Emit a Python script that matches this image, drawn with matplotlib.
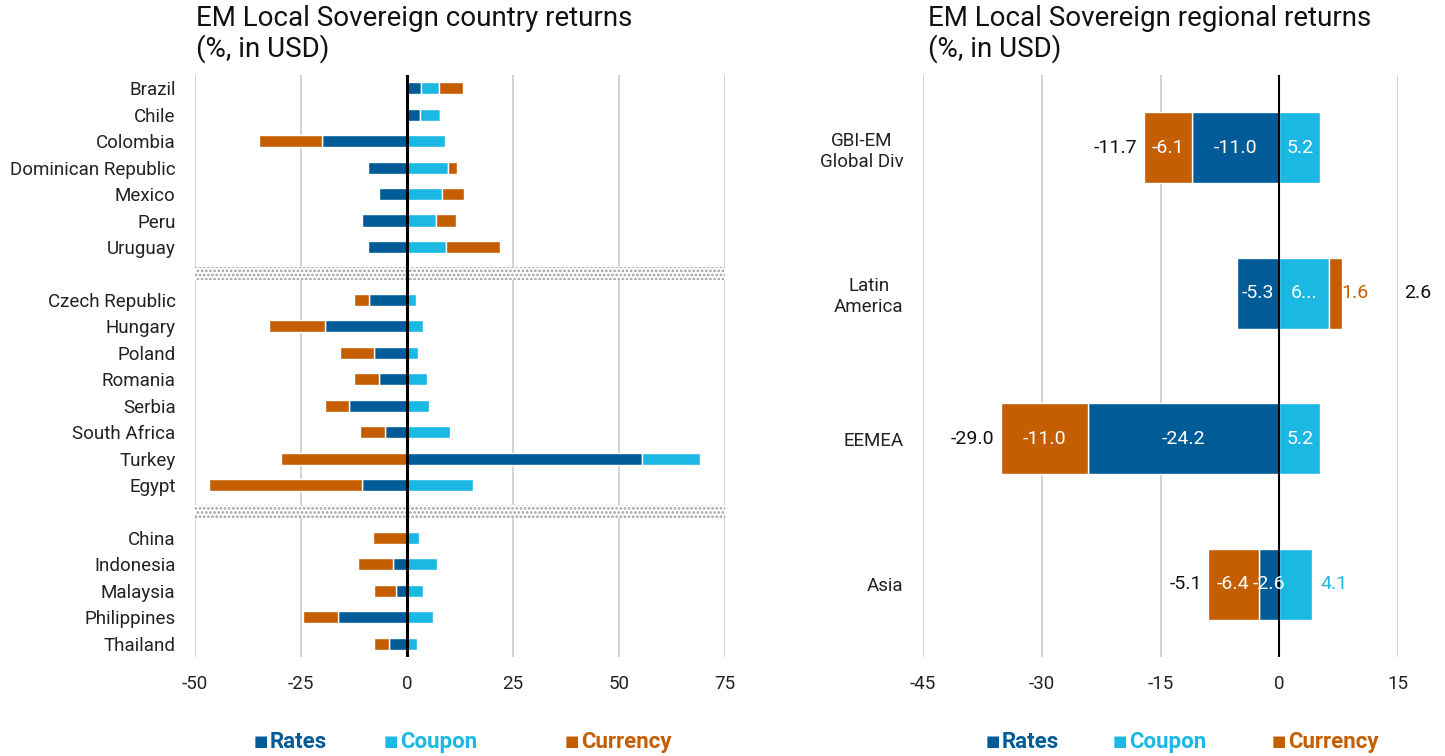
import matplotlib
matplotlib.use("Agg")
import matplotlib.pyplot as plt
import numpy as np

# colours
c_rates = '#005B96'
c_coupon = '#1BB8E4'
c_curr = '#C45E00'
c_grid = '#C8C8C8'

plt.rcParams['font.family'] = ['Roboto', 'DejaVu Sans']
plt.rcParams['hatch.linewidth'] = 1.3

# ---- left panel data (countries, top to bottom, None = separator) ----
countries = ['Brazil', 'Chile', 'Colombia', 'Dominican Republic', 'Mexico', 'Peru', 'Uruguay', None,
             'Czech Republic', 'Hungary', 'Poland', 'Romania', 'Serbia', 'South Africa', 'Turkey', 'Egypt', None,
             'China', 'Indonesia', 'Malaysia', 'Philippines', 'Thailand']
rates = [3.4, 3.1, -20.0, -9.3, -6.6, -10.6, -9.1, None,
         -9.0, -19.3, -7.9, -6.7, -13.6, -5.2, 55.4, -10.5, None,
         0.0, -3.2, -2.5, -16.2, -4.2]
coupon = [4.2, 4.7, 8.9, 9.7, 8.2, 6.9, 9.3, None,
          2.1, 3.8, 2.6, 4.6, 5.1, 10.1, 13.7, 15.5, None,
          2.8, 7.1, 3.8, 6.1, 2.3]
currency = [5.5, 0.0, -15.0, 2.2, 5.2, 4.7, 12.7, None,
            -3.4, -13.2, -7.8, -5.8, -5.8, -6.0, -29.7, -36.1, None,
            -8.1, -8.3, -5.4, -8.3, -3.7]
left_ticks = [-50, -25, 0, 25, 50, 75]

# ---- right panel data ----
regions = ['GBI-EM\nGlobal Div', 'Latin\nAmerica', 'EEMEA', 'Asia']
reg_rates = [-11.0, -5.3, -24.2, -2.6]
reg_coupon = [5.2, 6.3, 5.2, 4.1]
reg_curr = [-6.1, 1.6, -11.0, -6.4]
reg_total = [-11.7, 2.6, -29.0, -5.1]
right_ticks = [-45, -30, -15, 0, 15]

legend_labels = ['Rates', 'Coupon', 'Currency']
legend_colors = [c_rates, c_coupon, c_curr]

fig = plt.figure(figsize=(14.45, 7.56), dpi=100)
ax1 = fig.add_axes([195/1445, 1-657/756, 530/1445, 582/756])
ax2 = fig.add_axes([923/1445, 1-657/756, 475/1445, 582/756])


def stack(ax, y, series, colors, h):
    # stack positives to the right and negatives to the left, in series order
    pos = np.zeros(len(y))
    neg = np.zeros(len(y))
    segs = []
    for vals, col in zip(series, colors):
        vals = np.array(vals, dtype=float)
        left = np.where(vals >= 0, pos, neg)
        ax.barh(y, vals, left=left, height=h, color=col, edgecolor='white', linewidth=1.0, zorder=2)
        segs.append((left, vals))
        pos = pos + np.where(vals > 0, vals, 0)
        neg = neg + np.where(vals < 0, vals, 0)
    return segs, pos, neg


# left chart
ys = np.arange(len(countries))
idx = [i for i, c in enumerate(countries) if c is not None]
sep = [i for i, c in enumerate(countries) if c is None]
stack(ax1, ys[idx],
      [[rates[i] for i in idx], [coupon[i] for i in idx], [currency[i] for i in idx]],
      [c_rates, c_coupon, c_curr], 0.46)
for s in sep:
    ax1.barh(s, 125.5, left=-50, height=0.52, color='white', hatch='....',
             edgecolor='#A0A0A0', linewidth=0, zorder=1.5)
for t in left_ticks:
    if t != 0:
        ax1.axvline(t, color=c_grid, lw=1.1, zorder=1)
ax1.axvline(0, color='black', lw=2.2, zorder=3)
ax1.set_xlim(-50, 75)
ax1.set_ylim(len(countries) - 0.5, -0.5)
ax1.set_xticks(left_ticks)
ax1.set_xticklabels([str(t) for t in left_ticks])
ax1.set_yticks(ys[idx])
ax1.set_yticklabels([countries[i] for i in idx])

# right chart
yr = np.arange(len(regions))
segs, pos, neg = stack(ax2, yr, [reg_rates, reg_coupon, reg_curr], [c_rates, c_coupon, c_curr], 0.49)
for t in right_ticks:
    if t != 0:
        ax2.axvline(t, color=c_grid, lw=1.1, zorder=1)
ax2.axvline(0, color='black', lw=1.5, zorder=3)
ax2.set_xlim(-45, 15)
ax2.set_ylim(len(regions) - 0.5, -0.5)
ax2.set_xticks(right_ticks)
ax2.set_xticklabels([str(t) for t in right_ticks])
ax2.set_yticks(yr)
ax2.set_yticklabels(regions, ha='right', multialignment='center')

# segment labels
label_override = {(1, 1): '6...'}
outside = {(1, 2): 0.0, (3, 1): 1.1}
colors = [c_rates, c_coupon, c_curr]
for k, (left, vals) in enumerate(segs):
    for i in range(len(regions)):
        txt = label_override.get((i, k), '%.1f' % vals[i])
        if (i, k) in outside:
            x = left[i] + vals[i] + outside[(i, k)]
            ax2.text(x, yr[i], txt, ha='left', va='center', color=colors[k], fontsize=14, zorder=4)
        else:
            ax2.text(left[i] + vals[i] / 2, yr[i], txt, ha='center', va='center',
                     color='white', fontsize=14, zorder=4)
for i in range(len(regions)):
    if reg_total[i] < 0:
        ax2.text(neg[i] - 0.8, yr[i], '%.1f' % reg_total[i], ha='right', va='center',
                 color='#111111', fontsize=14)
    else:
        ax2.text(15.8, yr[i], '%.1f' % reg_total[i], ha='left', va='center',
                 color='#111111', fontsize=14, clip_on=False)

for ax in (ax1, ax2):
    for sp in ax.spines.values():
        sp.set_visible(False)
    ax.tick_params(length=0, labelsize=13.5, colors='#222222')
    ax.tick_params(axis='x', pad=13)
    ax.tick_params(axis='y', pad=14)

# titles
fig.text(196/1445, 1-5/756, 'EM Local Sovereign country returns\n(%, in USD)', ha='left', va='top',
         fontsize=20, color='#111111', linespacing=1.1)
fig.text(928/1445, 1-5/756, 'EM Local Sovereign regional returns\n(%, in USD)', ha='left', va='top',
         fontsize=20, color='#111111', linespacing=1.1)

# legends
leg_y = 1 - 742/756
for xs in ([254, 384, 565], [986, 1113, 1272]):
    for x, lab, col in zip(xs, legend_labels, legend_colors):
        fig.text(x/1445, leg_y, '\u25A0', ha='left', va='center', fontsize=11,
                 family=['DejaVu Sans'], color=col)
        fig.text((x + 16)/1445, leg_y, lab, ha='left', va='center', fontsize=16,
                 fontweight='bold', color=col)

fig.savefig('out.png', dpi=100)
